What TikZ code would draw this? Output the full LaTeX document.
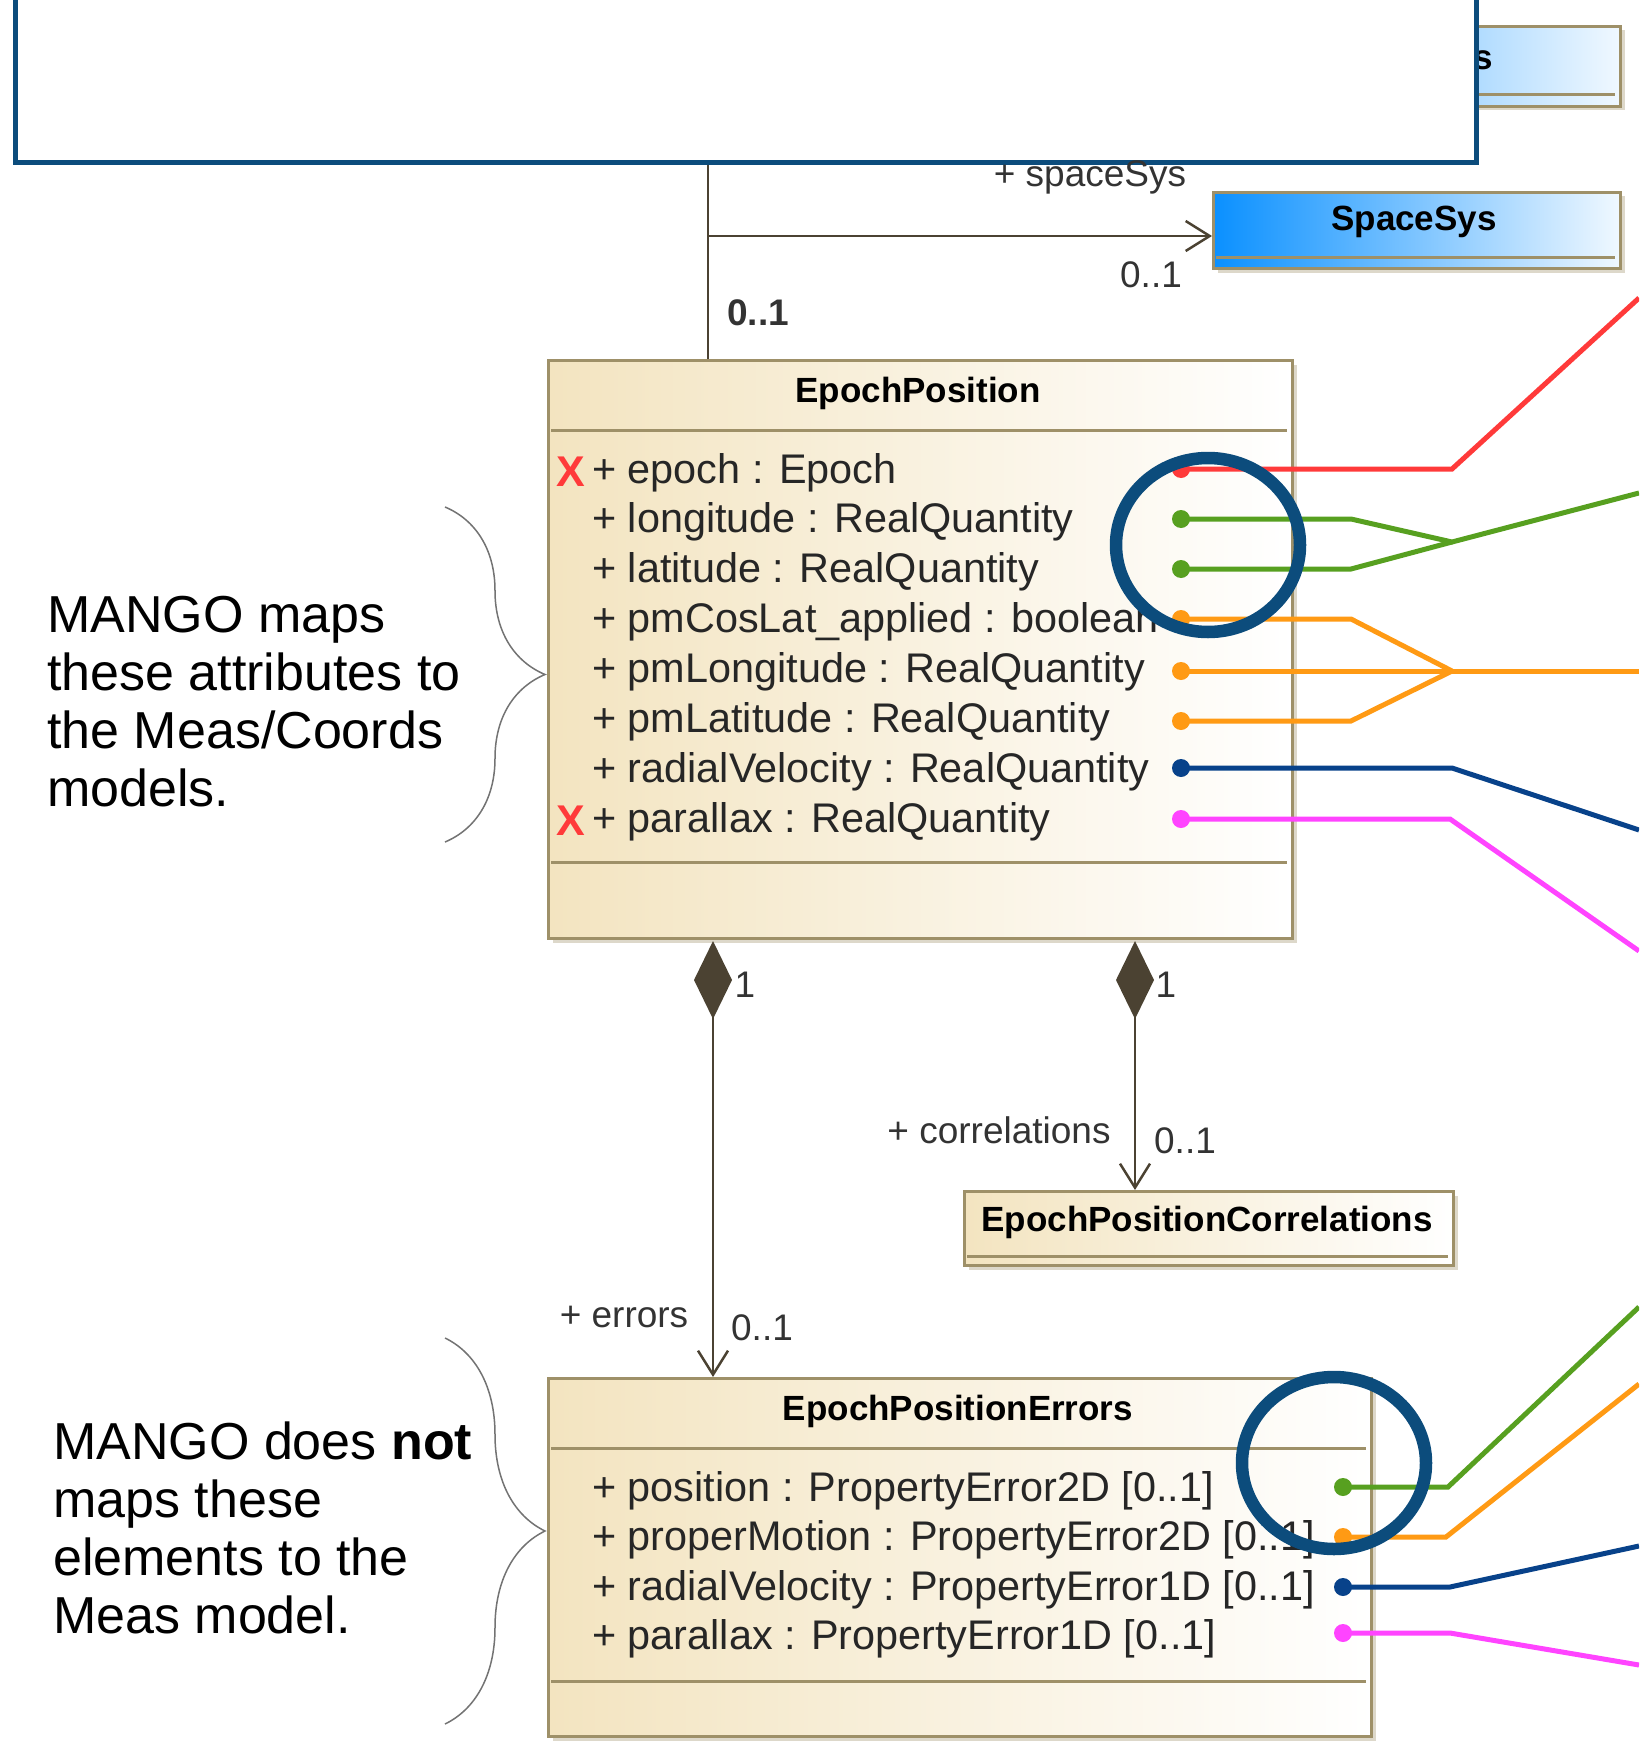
\documentclass[tikz,border=0pt]{standalone}
\usepackage{fontspec}
\setmainfont{Liberation Sans}
\usetikzlibrary{shapes,backgrounds,positioning,arrows.meta,decorations.pathreplacing,shadows}
\usepackage{xcolor}

\definecolor{umltan}{HTML}{F3E4C0}
\definecolor{umledge}{HTML}{9E9068}
\definecolor{umlink}{HTML}{4B4232}
\definecolor{sysblue}{HTML}{0A90FF}
\definecolor{ringblue}{HTML}{0C4C7C}
\definecolor{mapred}{HTML}{FF3A3A}
\definecolor{mapgreen}{HTML}{57A020}
\definecolor{maporange}{HTML}{FF9A14}
\definecolor{mapnavy}{HTML}{08428A}
\definecolor{mappink}{HTML}{FF44FF}

\tikzset{
  umlclass/.style={draw=umledge, line width=3pt, left color=umltan, right color=white,
    anchor=north west, inner sep=0pt,
    drop shadow={shadow xshift=4pt, shadow yshift=-4pt, fill=umledge, opacity=0.35}},
  sysclass/.style={umlclass, left color=sysblue, right color=white!94!sysblue},
  compart/.style={draw=umledge, line width=3pt},
  classname/.style={font=\fontsize{35}{40}\selectfont\bfseries, inner sep=0pt},
  attr/.style={font=\fontsize{41.4}{46}\selectfont, anchor=base west, inner sep=0pt, text=black!85},
  lbl/.style={font=\fontsize{37}{40}\selectfont, inner sep=0pt, text=black!80},
  xmark/.style={font=\fontsize{43}{43}\selectfont\bfseries, text=mapred, inner sep=0pt},
  mapdot/.style={circle, inner sep=0pt, minimum size=18pt},
  mapline/.style={line width=5pt},
  assoc/.style={draw=umlink, line width=2.5pt},
  openend/.style={-{Straight Barb[length=24pt, width=30pt]}},
  ring/.style={draw=ringblue, line width=12.5pt},
  note/.style={font=\fontsize{52}{58}\selectfont, align=left, anchor=west, inner sep=0pt},
  bracket/.style={draw=black!55, line width=1.5pt, decorate,
    decoration={brace, amplitude=100pt, aspect=0.5}}
}

\begin{document}
\begin{tikzpicture}[x=1pt, y=-1pt]
  \useasboundingbox (0,0) rectangle (1639,1744);
  \clip (0,0) rectangle (1639,1744);

  % classes
  \node[sysclass, minimum width=520pt, minimum height=80pt] (othersys) at (1099,25) {};
  \draw[compart] (1103,95) -- (1615,95);
  \node[classname] (othersysname) at (1483,60) {s};

  \node[draw=ringblue, line width=5pt, fill=white, anchor=north west,
        minimum width=1461pt, minimum height=190pt] (cover) at (13,-30) {};

  \node[sysclass, minimum width=407pt, minimum height=76pt] (spacesys) at (1212,191) {};
  \draw[compart] (1216,258) -- (1615,258);
  \node[classname] (spacesysname) at (1414,222) {SpaceSys};

  \node[umlclass, minimum width=744pt, minimum height=578pt] (epos) at (547,359) {};
  \node[classname] (eposname) at (918,393) {EpochPosition};
  \draw[compart] (551,430) -- (1287,430);
  \draw[compart] (551,862) -- (1287,862);

  \foreach \txt [count=\i] in {{+ epoch : Epoch},{+ longitude : RealQuantity},
      {+ latitude : RealQuantity},{+ pmCosLat\_applied : boolean},
      {+ pmLongitude : RealQuantity},{+ pmLatitude : RealQuantity},
      {+ radialVelocity : RealQuantity},{+ parallax : RealQuantity}}
    \node[attr] (ep\i) at (592,{483+49.9*(\i-1)}) {\txt};
  \node[xmark] (xa) at (571,472) {X};
  \node[xmark] (xb) at (571,821) {X};

  \node[umlclass, minimum width=489pt, minimum height=74pt] (corr) at (963,1190) {};
  \draw[compart] (967,1256) -- (1448,1256);
  \node[classname] (corrname) at (1207,1222) {EpochPositionCorrelations};

  \node[umlclass, minimum width=823pt, minimum height=358pt] (errs) at (547,1377) {};
  \node[classname] (errsname) at (958,1411) {EpochPositionErrors};
  \draw[compart] (551,1448) -- (1366,1448);
  \draw[compart] (551,1681) -- (1366,1681);

  \foreach \txt [count=\i] in {{+ position : PropertyError2D [0..1]},
      {+ properMotion : PropertyError2D [0..1]},
      {+ radialVelocity : PropertyError1D [0..1]},
      {+ parallax : PropertyError1D [0..1]}}
    \node[attr] (er\i) at (592,{1501+49.5*(\i-1)}) {\txt};

  % associations
  \coordinate (jn) at (708,236);
  \draw[assoc] (cover.south -| jn) -- (epos.north -| jn);
  \draw[assoc, openend] (jn) -- (jn -| spacesys.west);
  \node[lbl] (sysrole) at (1090,177) {+ spaceSys};
  \node[lbl] (sysmult) at (1151,275) {0..1};
  \node[lbl, font=\fontsize{37}{40}\selectfont\bfseries] (eposmult) at (758,313) {0..1};

  \coordinate (dl) at (713,941);
  \coordinate (dr) at (1135,941);
  \draw[assoc, {Diamond[length=78pt, width=38pt]}-{Straight Barb[length=24pt, width=30pt]}]
    (dl) -- (errs.north -| dl);
  \draw[assoc, {Diamond[length=78pt, width=38pt]}-{Straight Barb[length=24pt, width=30pt]}]
    (dr) -- (corr.north -| dr);
  \node[lbl] (errone) at (745,985) {1};
  \node[lbl] (corrone) at (1166,985) {1};
  \node[lbl] (errrole) at (624,1317) {+ errors};
  \node[lbl] (errmult) at (762,1328) {0..1};
  \node[lbl] (corrrole) at (999,1130) {+ correlations};
  \node[lbl] (corrmult) at (1185,1141) {0..1};

  % mapping lines
  \foreach \c/\y [count=\i] in {mapred/469, mapgreen/519, mapgreen/569, maporange/619,
      maporange/671, maporange/721, mapnavy/768, mappink/819}
    \node[mapdot, fill=\c] (pd\i) at (1181,\y) {};
  \foreach \c/\y [count=\i] in {mapgreen/1487, maporange/1537, mapnavy/1587, mappink/1633}
    \node[mapdot, fill=\c] (ed\i) at (1343,\y) {};

  \coordinate (kr) at (1452,469);  \coordinate (outr) at (1639,298);
  \coordinate (kg) at (1452,542);  \coordinate (outg) at (1639,493);
  \coordinate (ko) at (1452,671);  \coordinate (outo) at (1639,671);
  \coordinate (kn) at (1452,768);  \coordinate (outn) at (1639,830);
  \coordinate (kp) at (1450,819);  \coordinate (outp) at (1639,951);

  \draw[mapline, mapred] (pd1.center) -- (kr) -- (outr);
  \draw[mapline, mapgreen] (pd2.center) -- ++(170,0) -- (kg) -- (outg);
  \draw[mapline, mapgreen] (pd3.center) -- ++(170,0) -- (kg);
  \draw[mapline, maporange] (pd4.center) -- ++(170,0) -- (ko);
  \draw[mapline, maporange] (pd5.center) -- (ko) -- (outo);
  \draw[mapline, maporange] (pd6.center) -- ++(170,0) -- (ko);
  \draw[mapline, mapnavy] (pd7.center) -- (kn) -- (outn);
  \draw[mapline, mappink] (pd8.center) -- (kp) -- (outp);

  \coordinate (eoutg) at (1639,1307);
  \coordinate (eouto) at (1639,1384);
  \coordinate (eoutn) at (1639,1546);
  \coordinate (eoutp) at (1639,1665);
  \draw[mapline, mapgreen] (ed1.center) -- ++(105,0) -- (eoutg);
  \draw[mapline, maporange] (ed2.center) -- ++(103,0) -- (eouto);
  \draw[mapline, mapnavy] (ed3.center) -- ++(107,0) -- (eoutn);
  \draw[mapline, mappink] (ed4.center) -- ++(107,0) -- (eoutp);

  \draw[ring] (1208,545) ellipse [x radius=92, y radius=87];
  \draw[ring] (1334,1463) ellipse [x radius=92, y radius=86];

  % notes
  \draw[bracket] (445,507) -- (445,842);
  \draw[bracket] (445,1338) -- (445,1724);
  \node[note] (mapsnote) at (47,702) {MANGO maps\\these attributes to\\the Meas/Coords\\models.};
  \node[note] (notnote) at (53,1528) {MANGO does \textbf{not}\\maps these\\elements to the\\Meas model.};
\end{tikzpicture}
\end{document}
